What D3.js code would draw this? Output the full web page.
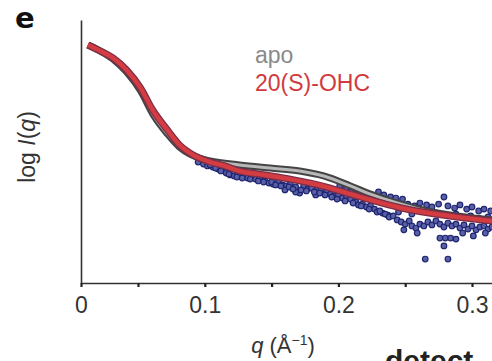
<!DOCTYPE html>
<html>
<head>
<meta charset="utf-8">
<script src="https://cdn.jsdelivr.net/npm/d3@7"></script>
<style>
  html, body { margin: 0; padding: 0; background: #fff; }
  svg { display: block; font-family: 'Liberation Sans', Arial, sans-serif; }
</style>
</head>
<body>
<div id="chart"></div>
<script>
// q (1/A) and log I (arbitrary units)
const apoQ = [0.006, 0.017, 0.028, 0.040, 0.052, 0.061, 0.072, 0.081, 0.089, 0.096, 0.104, 0.126, 0.149, 0.171, 0.189, 0.209, 0.224, 0.244, 0.263, 0.289, 0.315, 0.33]
const apoLogI = [9.05, 8.82, 8.52, 8.02, 7.30, 6.43, 5.67, 5.17, 4.90, 4.75, 4.64, 4.49, 4.37, 4.26, 4.07, 3.69, 3.38, 3.04, 2.78, 2.55, 2.40, 2.33]

const ohcQ = [0.006, 0.017, 0.028, 0.040, 0.052, 0.061, 0.072, 0.081, 0.089, 0.096, 0.104, 0.115, 0.126, 0.145, 0.164, 0.179, 0.194, 0.209, 0.224, 0.244, 0.263, 0.289, 0.315, 0.33]
const ohcLogI = [9.05, 8.82, 8.56, 8.10, 7.41, 6.58, 5.82, 5.25, 4.94, 4.75, 4.60, 4.45, 4.26, 4.11, 3.95, 3.80, 3.61, 3.38, 3.16, 2.89, 2.70, 2.51, 2.36, 2.30]

// measured points for 20(S)-OHC: [q, log I]
const ohcPoints = [
  [0.095, 4.60], [0.099, 4.52], [0.102, 4.45], [0.106, 4.41], [0.110, 4.33], [0.113, 4.30],
  [0.116, 4.18], [0.119, 4.11], [0.122, 4.07], [0.125, 4.14], [0.129, 4.07], [0.132, 3.99],
  [0.135, 4.03], [0.138, 3.95], [0.141, 3.99], [0.145, 3.88], [0.148, 3.80], [0.151, 3.76],
  [0.155, 3.84], [0.158, 3.73], [0.161, 3.69], [0.164, 3.76], [0.168, 3.65], [0.171, 3.42],
  [0.174, 3.69], [0.177, 3.57], [0.180, 3.61], [0.184, 3.54], [0.187, 3.57], [0.191, 3.46],
  [0.194, 3.38], [0.197, 3.31], [0.200, 3.35], [0.203, 3.23], [0.206, 3.31], [0.209, 3.19],
  [0.213, 3.08], [0.215, 2.97], [0.218, 3.00], [0.221, 2.89], [0.224, 2.93], [0.227, 2.81],
  [0.160, 3.54], [0.168, 3.46], [0.183, 3.35],
  [0.104, 4.49], [0.108, 4.37], [0.112, 4.26], [0.118, 4.14], [0.124, 4.03], [0.128, 3.99],
  [0.134, 3.95], [0.140, 3.88], [0.144, 3.84], [0.150, 3.84], [0.153, 3.73], [0.157, 3.69],
  [0.163, 3.65], [0.166, 3.57], [0.172, 3.54], [0.176, 3.50], [0.182, 3.46], [0.186, 3.42],
  [0.190, 3.35], [0.195, 3.27], [0.199, 3.19], [0.205, 3.12], [0.211, 3.04], [0.217, 2.93],
  [0.223, 2.81], [0.229, 2.70], [0.233, 2.66], [0.237, 2.58],
  [0.201, 3.69], [0.206, 3.61], [0.210, 3.54], [0.215, 3.46], [0.219, 3.42], [0.224, 3.35],
  [0.230, 3.46], [0.234, 3.35], [0.239, 3.27], [0.243, 3.23], [0.248, 3.19],
  [0.231, 2.74], [0.235, 2.62], [0.238, 2.51], [0.241, 2.55], [0.244, 2.40], [0.247, 2.32],
  [0.250, 2.24], [0.253, 2.36], [0.255, 2.17], [0.258, 2.09], [0.261, 2.24], [0.264, 2.17],
  [0.267, 2.32], [0.270, 2.21], [0.273, 2.36], [0.276, 2.24], [0.279, 2.13], [0.282, 2.28],
  [0.285, 2.17], [0.288, 2.24], [0.291, 2.09], [0.294, 2.21], [0.297, 2.05], [0.300, 2.17],
  [0.303, 2.02], [0.306, 2.13], [0.309, 2.17], [0.312, 2.05], [0.315, 2.13],
  [0.252, 3.00], [0.257, 2.93], [0.261, 3.04], [0.266, 2.97], [0.270, 2.89], [0.275, 3.00],
  [0.279, 3.27], [0.282, 2.93], [0.287, 2.85], [0.291, 2.97], [0.296, 2.81], [0.300, 2.89],
  [0.305, 2.74], [0.309, 2.81], [0.314, 2.74],
  [0.276, 1.71], [0.280, 1.71], [0.284, 1.71], [0.288, 1.67], [0.279, 1.41], [0.265, 0.91],
  [0.282, 0.91], [0.249, 2.02], [0.259, 1.90], [0.293, 1.90], [0.301, 1.79], [0.310, 1.90],
  [0.273, 2.66], [0.299, 2.55], [0.312, 2.51], [0.245, 2.70], [0.255, 2.62], [0.288, 2.62],
  [0.305, 2.47]
]

const xTickValues = [0, 0.05, 0.1, 0.15, 0.2, 0.25, 0.3]
const xTickLabels = ['0', '', '0.1', '', '0.2', '', '0.3']
const legendNames = ['apo', '20(S)-OHC']
const legendColors = ['#8a8a8a', '#d03a40']

const width = 492
const height = 361

const svg = d3.select('#chart').append('svg')
  .attr('width', width)
  .attr('height', height)

// the original axis squeezes the first 0.05
const x = d3.scaleLinear().domain([0, 0.05, 0.35]).range([81, 138, 538.8])
const y = d3.scaleLinear().domain([0, 10]).range([283, 20])

const line = d3.line()
  .x(d => x(d[0]))
  .y(d => y(d[1]))
  .curve(d3.curveMonotoneX)

const apo = apoQ.map((q, i) => [q, apoLogI[i]])
const ohc = ohcQ.map((q, i) => [q, ohcLogI[i]])

svg.append('clipPath').attr('id', 'plot')
  .append('rect').attr('x', 82).attr('y', 0).attr('width', width).attr('height', 282)

const plot = svg.append('g').attr('clip-path', 'url(#plot)')

plot.selectAll('.pt')
  .data(ohcPoints)
  .enter()
  .append('circle')
  .attr('class', 'pt')
  .attr('cx', d => x(d[0]))
  .attr('cy', d => y(d[1]))
  .attr('r', 2.8)
  .style('fill', '#5a60a8')
  .style('stroke', '#1f2670')
  .style('stroke-width', 1.2)

plot.append('path').datum(apo)
  .attr('d', line)
  .style('fill', 'none')
  .style('stroke', '#444')
  .style('stroke-width', 7)

plot.append('path').datum(apo)
  .attr('d', line)
  .style('fill', 'none')
  .style('stroke', '#b8b8b8')
  .style('stroke-width', 3)

plot.append('path').datum(ohc)
  .attr('d', line)
  .style('fill', 'none')
  .style('stroke', '#7c2d4a')
  .style('stroke-width', 7)

plot.append('path').datum(ohc)
  .attr('d', line)
  .style('fill', 'none')
  .style('stroke', '#d33c40')
  .style('stroke-width', 4.5)

// axes
const xAxis = d3.axisBottom(x)
  .tickValues(xTickValues)
  .tickSize(4)
  .tickSizeOuter(0)
  .tickFormat((d, i) => xTickLabels[i])

const xg = svg.append('g')
  .attr('transform', 'translate(0, 283)')
  .call(xAxis)

xg.select('.domain').style('stroke', '#333').style('stroke-width', 1.6)
xg.selectAll('.tick line').style('stroke', '#222').style('stroke-width', 2.2)
xg.selectAll('.tick text')
  .attr('y', 14)
  .style('font-size', '23px')
  .style('fill', '#333')
  .style('font-family', "'Liberation Sans', Arial, sans-serif")

const yAxis = d3.axisLeft(y).tickValues([]).tickSizeOuter(0)
const yg = svg.append('g')
  .attr('transform', 'translate(81, 0)')
  .call(yAxis)
yg.select('.domain').style('stroke', '#333').style('stroke-width', 1.6)

// axis titles
const xt = svg.append('text')
  .attr('x', 283)
  .attr('y', 353)
  .attr('text-anchor', 'middle')
  .style('font-size', '22px')
  .style('fill', '#333')
xt.append('tspan').style('font-style', 'italic').text('q')
xt.append('tspan').text(' (Å')
xt.append('tspan').attr('dy', -8).style('font-size', '14px').text('−1')
xt.append('tspan').attr('dy', 8).text(')')

const yt = svg.append('text')
  .attr('transform', 'translate(35, 147) rotate(-90)')
  .attr('text-anchor', 'middle')
  .style('font-size', '23px')
  .style('fill', '#333')
yt.append('tspan').text('log ')
yt.append('tspan').style('font-style', 'italic').text('I')
yt.append('tspan').text('(')
yt.append('tspan').style('font-style', 'italic').text('q')
yt.append('tspan').text(')')

// legend
svg.selectAll('.legend')
  .data(legendNames)
  .enter()
  .append('text')
  .attr('class', 'legend')
  .attr('x', 255)
  .attr('y', (d, i) => 63 + i * 28)
  .style('font-size', '23px')
  .style('fill', (d, i) => legendColors[i])
  .text(d => d)

// panel letter
svg.append('text')
  .attr('x', 15)
  .attr('y', 28)
  .style('font-family', "'DejaVu Sans', sans-serif")
  .style('font-weight', 'bold')
  .style('font-size', '29px')
  .style('fill', '#111')
  .text('e')

// text from the neighbouring panel, cut by the frame as in the figure
svg.append('text')
  .attr('x', 385)
  .attr('y', 371)
  .style('font-weight', 'bold')
  .style('font-size', '30px')
  .style('fill', '#222')
  .text('detect')
</script>
</body>
</html>
